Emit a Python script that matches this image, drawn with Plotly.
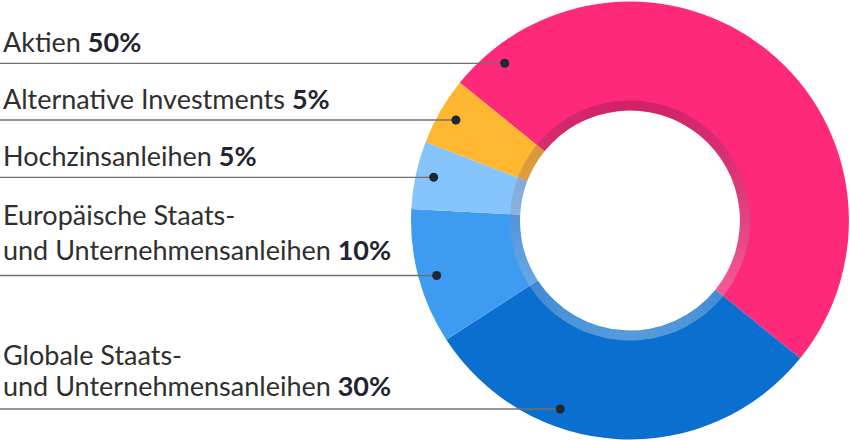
import math
import plotly.graph_objects as go

# ---- data ----
labels = ["Aktien", "Globale Staats-<br>und Unternehmensanleihen",
          "Europäische Staats-<br>und Unternehmensanleihen",
          "Hochzinsanleihen", "Alternative Investments"]
values = [50, 30, 10, 5, 5]
colors = ["#FF297A", "#0B6FCF", "#3D9BF0", "#86C5FB", "#FFB630"]

# ---- layout (pixel positions of label text and leader lines) ----
W, H = 850, 440
CX, CY, R = 630, 220.5, 219
HOLE_R, RING_R, DOT_R = 110, 120, 201
ROTATION = -51
leader_y = [63.3, 409, 275.5, 177.3, 120]
text_baselines = [[53], [366, 397], [226.5, 261], [167.3], [110]]
FONT = "Lato, 'Noto Sans', sans-serif"
FS = 27
DESC = 0.213 * FS + 1  # distance from baseline to annotation box bottom

fig = go.Figure()
fig.add_trace(go.Pie(
    labels=[l.replace("<br>", " ") for l in labels], values=values, sort=False,
    direction="clockwise", rotation=ROTATION, hole=HOLE_R / R, textinfo="none",
    hoverinfo="label+percent",
    marker=dict(colors=colors, line=dict(width=0)),
    domain=dict(x=[(CX - R) / W, (CX + R) / W], y=[(H - CY - R) / H, (H - CY + R) / H]),
    showlegend=False,
))

# inner shading ring (dark at top, light at bottom)
N = 90
ring_cols = []
for i in range(N):
    a = (i + 0.5) * 2 * math.pi / N
    t = (1 - math.cos(a)) / 2
    r = int(60 + (255 - 60) * t)
    g = int(20 + (255 - 20) * t)
    b = int(50 + (255 - 50) * t)
    al = 0.24 + (0.30 - 0.24) * t
    ring_cols.append(f"rgba({r},{g},{b},{al:.3f})")
fig.add_trace(go.Pie(
    values=[1] * N, sort=False, direction="clockwise", rotation=0,
    hole=HOLE_R / RING_R, textinfo="none", hoverinfo="skip",
    marker=dict(colors=ring_cols, line=dict(width=0)),
    domain=dict(x=[(CX - RING_R) / W, (CX + RING_R) / W],
                y=[(H - CY - RING_R) / H, (H - CY + RING_R) / H]),
    showlegend=False,
))

fig.add_trace(go.Scatter(x=[0, W], y=[0, H], mode="none", showlegend=False, hoverinfo="skip"))

shapes, annotations = [], []
for lab, v, y, bls in zip(labels, values, leader_y, text_baselines):
    dx = math.sqrt(DOT_R ** 2 - (y - CY) ** 2)
    xd = CX - dx
    shapes.append(dict(type="line", xref="x", yref="y", x0=0, x1=xd, y0=y, y1=y,
                       line=dict(color="#707070", width=1.3), layer="above"))
    shapes.append(dict(type="circle", xref="x", yref="y", x0=xd - 4.5, x1=xd + 4.5,
                       y0=y - 4.5, y1=y + 4.5, fillcolor="#1d2736",
                       line=dict(width=0), layer="above"))
    parts = f"{lab} <b style='color:#1f2630'>{v}%</b>".split("<br>")
    for part, bl in zip(parts, bls):
        annotations.append(dict(
            xref="x", yref="y", x=1, y=bl + DESC, xanchor="left", yanchor="bottom",
            align="left", showarrow=False, text=part,
            font=dict(family=FONT, size=FS, color="#2f2f2f"),
        ))

fig.update_layout(
    width=W, height=H, margin=dict(l=0, r=0, t=0, b=0),
    paper_bgcolor="white", plot_bgcolor="white",
    xaxis=dict(range=[0, W], visible=False, fixedrange=True),
    yaxis=dict(range=[H, 0], visible=False, fixedrange=True),
    shapes=shapes, annotations=annotations,
)
fig.write_html("out.html")
